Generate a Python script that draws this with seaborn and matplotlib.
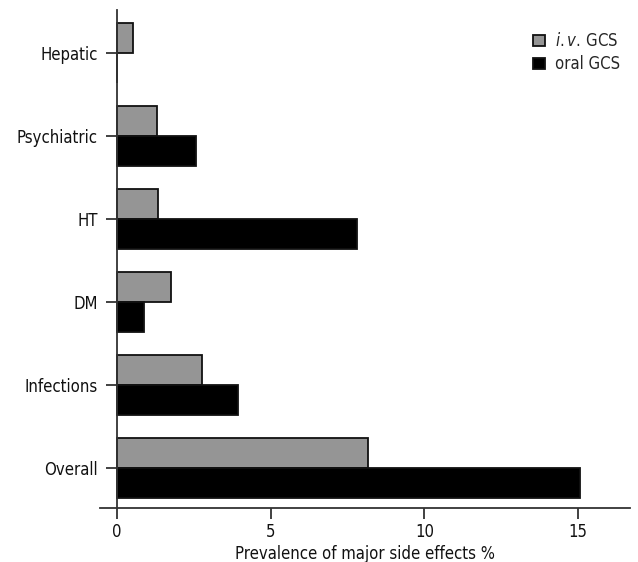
import pandas as pd
import seaborn as sns
import matplotlib.pyplot as plt

# values
categories = ['Hepatic', 'Psychiatric', 'HT', 'DM', 'Infections', 'Overall']
iv_gcs = [0.52, 1.3, 1.33, 1.75, 2.76, 8.15]
oral_gcs = [0, 2.56, 7.8, 0.88, 3.93, 15.05]
series_names = ['$\\mathit{i{.}v{.}}\\,$GCS', 'oral GCS']

df = pd.DataFrame({
    'cat': categories * 2,
    'val': iv_gcs + oral_gcs,
    'grp': [series_names[0]] * len(categories) + [series_names[1]] * len(categories),
})

sns.set_style('white')
plt.rcParams['font.family'] = ['DejaVu Sans']
plt.rcParams['font.stretch'] = 'condensed'
plt.rcParams['mathtext.fontset'] = 'custom'
plt.rcParams['mathtext.it'] = 'DejaVu Sans:italic:stretch=condensed'
plt.rcParams['mathtext.rm'] = 'DejaVu Sans:stretch=condensed'

fig = plt.figure(figsize=(6.38, 5.62), dpi=100)
ax = fig.add_axes([100 / 638, 1 - 508 / 562, 530 / 638, 498 / 562])

sns.barplot(data=df, x='val', y='cat', hue='grp', orient='h',
            palette=['#959595', '#000000'], width=0.72, gap=0,
            edgecolor='#111111', linewidth=1.3, ax=ax)

ax.set_xlim(-0.553, 16.69)
ax.set_ylim(5.48, -0.52)
ax.set_xticks([0, 5, 10, 15])
ax.spines['top'].set_visible(False)
ax.spines['right'].set_visible(False)
ax.spines['left'].set_position(('data', 0))
for s in ['left', 'bottom']:
    ax.spines[s].set_color('#333333')
    ax.spines[s].set_linewidth(1.3)
ax.tick_params(axis='both', direction='out', length=8, width=1.3, color='#333333',
               labelsize=12, labelcolor='#111111', left=True, bottom=True)
ax.tick_params(axis='y', pad=6)
ax.tick_params(axis='x', pad=3)
ax.set_ylabel('')
ax.set_xlabel('Prevalence of major side effects %', fontsize=12, color='#111111', labelpad=3)

leg = ax.legend(loc='upper right', bbox_to_anchor=(1.0, 0.975), frameon=False,
                fontsize=12, handlelength=0.7, handleheight=0.7, handletextpad=0.6,
                labelspacing=0.3, borderaxespad=0.2)

fig.savefig('out.png', dpi=100)
